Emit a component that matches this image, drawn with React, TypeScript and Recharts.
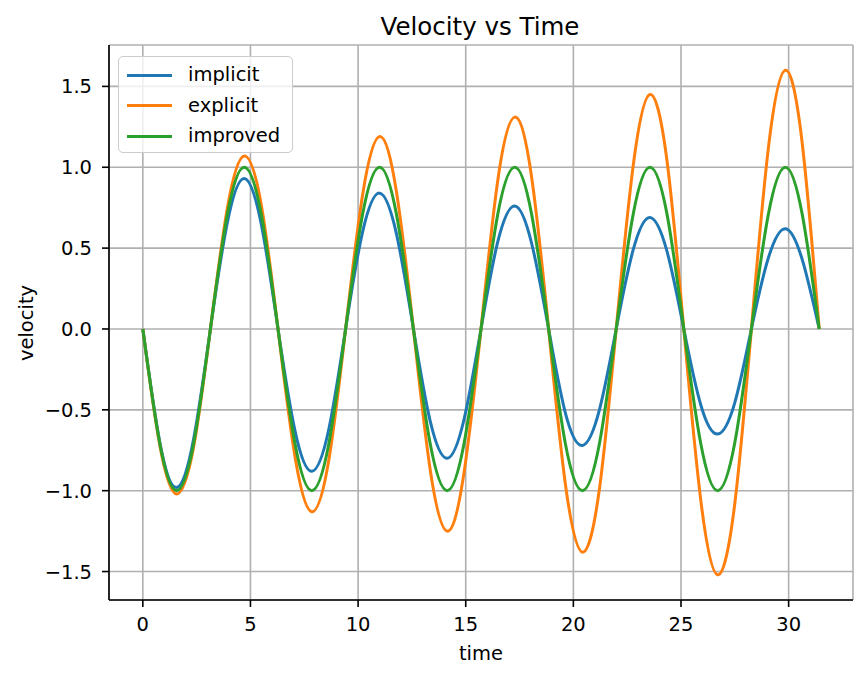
import React from "react";
import { LineChart, Line, XAxis, YAxis, CartesianGrid, Legend, Label } from "recharts";

const time = [0, 0.79, 1.57, 2.36, 3.14, 3.93, 4.71, 5.5, 6.28, 7.07, 7.85, 8.64, 9.42, 10.21, 11.0, 11.78, 12.57, 13.35, 14.14, 14.92, 15.71, 16.49, 17.28, 18.06, 18.85, 19.63, 20.42, 21.21, 21.99, 22.78, 23.56, 24.35, 25.13, 25.92, 26.7, 27.49, 28.27, 29.06, 29.85, 30.63, 31.42];
const implicitV = [0, -0.70, -0.98, -0.68, 0, 0.66, 0.93, 0.65, 0, -0.63, -0.88, -0.62, 0, 0.60, 0.84, 0.59, 0, -0.57, -0.80, -0.56, 0, 0.54, 0.76, 0.53, 0, -0.52, -0.72, -0.50, 0, 0.49, 0.69, 0.48, 0, -0.47, -0.65, -0.46, 0, 0.44, 0.62, 0.43, 0];
const explicitV = [0, -0.72, -1.02, -0.73, 0, 0.75, 1.07, 0.77, 0, -0.79, -1.13, -0.81, 0, 0.83, 1.19, 0.85, 0, -0.87, -1.25, -0.89, 0, 0.92, 1.31, 0.94, 0, -0.96, -1.38, -0.99, 0, 1.01, 1.45, 1.04, 0, -1.06, -1.52, -1.09, 0, 1.12, 1.60, 1.15, 0];
const improvedV = [0, -0.71, -1, -0.71, 0, 0.71, 1, 0.71, 0, -0.71, -1, -0.71, 0, 0.71, 1, 0.71, 0, -0.71, -1, -0.71, 0, 0.71, 1, 0.71, 0, -0.71, -1, -0.71, 0, 0.71, 1, 0.71, 0, -0.71, -1, -0.71, 0, 0.71, 1, 0.71, 0];

const xTicks = [0, 5, 10, 15, 20, 25, 30];
const yTicks = [-1.5, -1.0, -0.5, 0.0, 0.5, 1.0, 1.5];

const seriesNames = ["implicit", "explicit", "improved"];
const seriesColors = ["#1f77b4", "#ff7f0e", "#2ca02c"];

const data = time.map((t, i) => ({
  t,
  implicit: implicitV[i],
  explicit: explicitV[i],
  improved: improvedV[i],
}));

const FONT = "'DejaVu Sans', sans-serif";
const TICK_FS = 19.5;

const fmtY = (v: number) => v.toFixed(1).replace("-", "\u2212");

const XTick = (props: any) => {
  const { x, y, payload } = props;
  return (
    <text x={x} y={y} dy="0.73em" textAnchor="middle" fontFamily={FONT} fontSize={TICK_FS} fill="#000">
      {String(payload.value)}
    </text>
  );
};

const YTick = (props: any) => {
  const { x, y, payload } = props;
  return (
    <text x={x} y={y} dy="0.36em" textAnchor="end" fontFamily={FONT} fontSize={TICK_FS} fill="#000">
      {fmtY(payload.value)}
    </text>
  );
};

const LegendBox = () => (
  <div
    style={{
      width: 175,
      height: 97,
      boxSizing: "border-box",
      border: "1.5px solid #cccccc",
      borderRadius: 5,
      background: "rgba(255,255,255,0.8)",
      fontFamily: FONT,
      fontSize: TICK_FS,
      position: "relative",
    }}
  >
    {seriesNames.map((n, i) => (
      <div key={n} style={{ position: "absolute", left: 0, top: 3 + i * 30.5, height: 30, display: "flex", alignItems: "center" }}>
        <div style={{ marginLeft: 8, width: 45, height: 3, background: seriesColors[i] }} />
        <span style={{ marginLeft: 16, color: "#000", lineHeight: "30px" }}>{n}</span>
      </div>
    ))}
  </div>
);

export default function App() {
  return (
    <div style={{ position: "absolute", left: 0, top: 0, width: 867, height: 678, background: "#fff" }}>
      <LineChart width={867} height={678} data={data} margin={{ top: 45, right: 14, bottom: 0, left: 0 }}>
        <CartesianGrid stroke="#b0b0b0" strokeWidth={1.6} />
        <XAxis
          xAxisId="top"
          orientation="top"
          dataKey="t"
          type="number"
          domain={[-1.571, 32.99]}
          height={0}
          tick={false}
          tickLine={false}
          axisLine={{ stroke: "#000", strokeWidth: 1.6 }}
        />
        <YAxis
          yAxisId="right"
          orientation="right"
          type="number"
          domain={[-1.676, 1.756]}
          width={0}
          tick={false}
          tickLine={false}
          axisLine={{ stroke: "#000", strokeWidth: 1.6 }}
        />
        <XAxis
          dataKey="t"
          type="number"
          domain={[-1.571, 32.99]}
          ticks={xTicks}
          height={78}
          tickSize={7}
          tickMargin={10}
          tick={<XTick />}
          tickLine={{ stroke: "#000", strokeWidth: 1.6 }}
          axisLine={{ stroke: "#000", strokeWidth: 1.6 }}
        >
          <Label
            content={() => (
              <text x={481} y={660} textAnchor="middle" fontFamily={FONT} fontSize={TICK_FS} fill="#000">
                time
              </text>
            )}
          />
        </XAxis>
        <YAxis
          type="number"
          domain={[-1.676, 1.756]}
          ticks={yTicks}
          width={109}
          tickSize={7}
          tickMargin={10}
          tick={<YTick />}
          tickLine={{ stroke: "#000", strokeWidth: 1.6 }}
          axisLine={{ stroke: "#000", strokeWidth: 1.6 }}
        >
          <Label
            content={() => (
              <text
                x={33}
                y={323}
                transform="rotate(-90 33 323)"
                textAnchor="middle"
                fontFamily={FONT}
                fontSize={TICK_FS}
                fill="#000"
              >
                velocity
              </text>
            )}
          />
        </YAxis>
        {seriesNames.map((n, i) => (
          <Line
            key={n}
            dataKey={n}
            name={n}
            type="natural"
            stroke={seriesColors[i]}
            strokeWidth={3}
            dot={false}
            activeDot={false}
            isAnimationActive={false}
          />
        ))}
        <Legend
          layout="vertical"
          align="center"
          verticalAlign="middle"
          content={<LegendBox />}
          wrapperStyle={{ left: 118, top: 56, width: 175, height: 97 }}
        />
      </LineChart>
      <svg width={867} height={45} style={{ position: "absolute", left: 0, top: 0, pointerEvents: "none" }}>
        <text x={480} y={35} textAnchor="middle" fontFamily={FONT} fontSize={24.5} fill="#000">
          Velocity vs Time
        </text>
      </svg>
    </div>
  );
}
